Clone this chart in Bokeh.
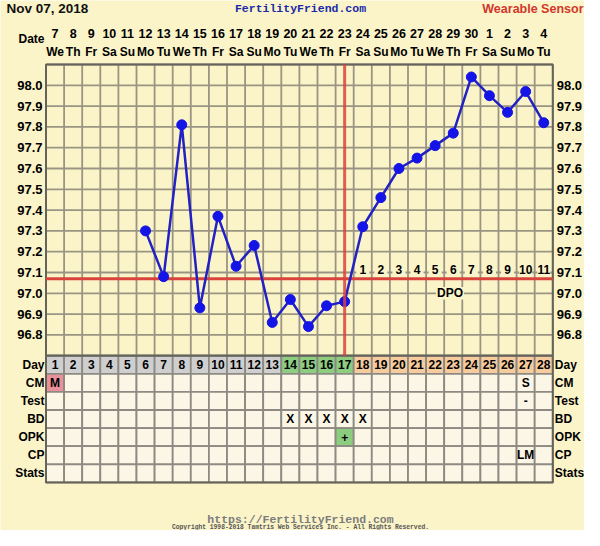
from bokeh.plotting import figure
from bokeh.models import Range1d
from bokeh.core.properties import value
from bokeh.embed import file_html
from bokeh.resources import INLINE

# ---------------- data ----------------
dates = [7, 8, 9, 10, 11, 12, 13, 14, 15, 16, 17, 18, 19, 20, 21, 22, 23, 24, 25, 26,
         27, 28, 29, 30, 1, 2, 3, 4]
weekdays = ["We", "Th", "Fr", "Sa", "Su", "Mo", "Tu"] * 4
cycle_days = list(range(1, 29))
temp_days = list(range(6, 29))
temps = [97.30, 97.08, 97.81, 96.93, 97.37, 97.13, 97.23, 96.86, 96.97, 96.84, 96.94,
         96.96, 97.32, 97.46, 97.60, 97.65, 97.71, 97.77, 98.04, 97.95, 97.87, 97.97, 97.82]
coverline = 97.07
ovulation_day = 17
dpo_days = list(range(18, 29))
dpo_labels = [str(i) for i in range(1, 12)]
temp_ticks = [96.8, 96.9, 97.0, 97.1, 97.2, 97.3, 97.4, 97.5, 97.6, 97.7, 97.8, 97.9, 98.0]
temp_tick_labels = ["%.1f" % t for t in temp_ticks]
temp_min, temp_max = 96.7, 98.1
row_labels = ["Day", "CM", "Test", "BD", "OPK", "CP", "Stats"]
fertile_days = [14, 15, 16, 17]
cm_days, cm_marks = [1, 27], ["M", "S"]
test_days, test_marks = [27], ["-"]
bd_days, bd_marks = [14, 15, 16, 17, 18], ["X"] * 5
opk_days, opk_marks = [17], ["+"]
cp_days, cp_marks = [27], ["LM"]

# ---------------- layout / style ----------------
W, H = 584, 530
GRID_L = 45.5          # px of left grid edge
CELL_W = 18.1          # px per day column
GRID_TOP = 64.0        # px of top grid edge
TEMP_PX = 208.0        # px per degree
ROW_H = 18.1           # px per table row
TEMP_BOT = GRID_TOP + (temp_max - temp_min) * TEMP_PX
GRID_R = GRID_L + CELL_W * len(cycle_days)

BG = "#fbf4c8"
CELL_BG = "#fcf6e6"
GRID_C = "#9a9583"
TABLE_C = "#8c8a82"
BORDER_C = "#66635a"
RED = "#d8443b"
BLUE_LINE = "#2222c4"
BLUE_DOT = "#1414e6"
GRAY_DAY = "#cfcfcf"
GREEN = "#8dcd80"
PEACH = "#f6cb9d"
PINK = "#e8919a"
FONT = "Liberation Sans"
MONO = "Liberation Mono"

p = figure(width=W, height=H, output_backend="svg", toolbar_location=None,
           x_axis_type=None, y_axis_type=None, min_border=0,
           x_range=Range1d(0.5 - GRID_L / CELL_W, 0.5 + (W - GRID_L) / CELL_W),
           y_range=Range1d(temp_max - (H - GRID_TOP) / TEMP_PX, temp_max + GRID_TOP / TEMP_PX),
           background_fill_color=BG, border_fill_color=BG, outline_line_color=None)
p.extra_y_ranges = {
    "rows": Range1d(start=-0.5 + (H - TEMP_BOT) / ROW_H, end=-0.5 - TEMP_BOT / ROW_H),
    "px": Range1d(start=H, end=0),
}
p.extra_x_ranges = {"px": Range1d(start=0, end=W)}

x_lo, x_hi = 0.5, len(cycle_days) + 0.5

# temperature grid
vx = [k + 0.5 for k in range(len(cycle_days) + 1)]
p.segment(x0=vx, y0=[temp_min] * len(vx), x1=vx, y1=[temp_max] * len(vx),
          line_color=GRID_C, line_width=1.8)
n_h = int(round((temp_max - temp_min) * 10)) + 1
hy = [temp_min + 0.1 * i for i in range(n_h)]
p.segment(x0=[x_lo] * n_h, y0=hy, x1=[x_hi] * n_h, y1=hy, line_color=GRID_C, line_width=1.8)
p.quad(left=x_lo, right=x_hi, bottom=temp_min, top=temp_max, fill_color=None,
       line_color=BORDER_C, line_width=2)

# table cells
cx, cy, cf = [], [], []
for r in range(len(row_labels)):
    for d in cycle_days:
        cx.append(d)
        cy.append(r)
        if r == 0:
            cf.append(GREEN if d in fertile_days else (PEACH if d > ovulation_day else GRAY_DAY))
        elif r == 1 and d == cm_days[0]:
            cf.append(PINK)
        elif r == 4 and d in opk_days:
            cf.append(GREEN)
        else:
            cf.append(CELL_BG)
p.rect(x=cx, y=cy, width=1, height=1, fill_color=cf, line_color=TABLE_C, line_width=1.8,
       y_range_name="rows")
p.quad(left=x_lo, right=x_hi, top=-0.5, bottom=len(row_labels) - 0.5, fill_color=None,
       line_color=BORDER_C, line_width=2, y_range_name="rows")

# coverline
p.segment(x0=[x_lo], y0=[coverline], x1=[x_hi], y1=[coverline], line_color=RED, line_width=3)

# DPO labels
p.rect(x=dpo_days, y=[97.116] * len(dpo_days), width=0.72, height=0.058,
       fill_color=BG, line_color=None)
p.text(x=dpo_days, y=[97.116] * len(dpo_days), text=dpo_labels, text_align="center",
       text_baseline="middle", text_font=value(FONT), text_font_style="bold",
       text_font_size="12px", text_color="black")
p.rect(x=[22.82], y=[97.0], width=1.55, height=0.06, fill_color=BG, line_color=None)
p.text(x=[22.82], y=[97.0], text=["DPO"], text_align="center", text_baseline="middle",
       text_font=value(FONT), text_font_style="bold", text_font_size="12px",
       text_color="black")

# temperatures
p.line(temp_days, temps, line_color=BLUE_LINE, line_width=2.5)
p.scatter(temp_days, temps, size=10, fill_color=BLUE_DOT, line_color=BLUE_DOT)

# ovulation line
p.segment(x0=[ovulation_day], y0=[temp_min], x1=[ovulation_day], y1=[temp_max],
          line_color=RED, line_width=3, line_alpha=0.85)

# table texts
def row_text(days, marks, row, size="12px"):
    p.text(x=days, y=[row] * len(days), text=marks, y_range_name="rows",
           text_align="center", text_baseline="middle", text_font=value(FONT),
           text_font_style="bold", text_font_size=size, text_color="black")

row_text(cycle_days, [str(d) for d in cycle_days], 0)
row_text(cm_days, cm_marks, 1)
row_text(test_days, test_marks, 2)
row_text(bd_days, bd_marks, 3)
row_text(opk_days, opk_marks, 4)
row_text(cp_days, cp_marks, 5)

# row labels both sides
rows_idx = list(range(len(row_labels)))
p.text(x=[GRID_L - 1.5] * len(rows_idx), y=rows_idx, text=row_labels, x_range_name="px",
       y_range_name="rows", text_align="right", text_baseline="middle",
       text_font=value(FONT), text_font_style="bold", text_font_size="12px", text_color="black")
p.text(x=[GRID_R + 2] * len(rows_idx), y=rows_idx, text=row_labels,
       x_range_name="px", y_range_name="rows", text_align="left", text_baseline="middle",
       text_font=value(FONT), text_font_style="bold", text_font_size="12px", text_color="black")

# temperature labels both sides
p.text(x=[GRID_L - 3.5] * len(temp_ticks), y=temp_ticks, text=temp_tick_labels,
       x_range_name="px", text_align="right", text_baseline="middle",
       text_font=value(FONT), text_font_style="bold", text_font_size="13px", text_color="black")
p.text(x=[GRID_R + 4] * len(temp_ticks), y=temp_ticks,
       text=temp_tick_labels, x_range_name="px", text_align="left", text_baseline="middle",
       text_font=value(FONT), text_font_style="bold", text_font_size="13px", text_color="black")

# date header
p.text(x=cycle_days, y=[33] * len(cycle_days), text=[str(d) for d in dates], y_range_name="px",
       text_align="center", text_baseline="middle", text_font=value(FONT),
       text_font_style="bold", text_font_size="12.5px", text_color="black")
p.text(x=cycle_days, y=[51] * len(cycle_days), text=weekdays, y_range_name="px",
       text_align="center", text_baseline="middle", text_font=value(FONT),
       text_font_style="bold", text_font_size="12px", text_color="black")
p.text(x=[GRID_L - 1.5], y=[38.5], text=["Date"], x_range_name="px", y_range_name="px",
       text_align="right", text_baseline="middle", text_font=value(FONT),
       text_font_style="bold", text_font_size="12px", text_color="black")

# titles
p.text(x=[6], y=[8], text=["Nov 07, 2018"], x_range_name="px", y_range_name="px",
       text_align="left", text_baseline="middle", text_font=value(FONT),
       text_font_style="bold", text_font_size="13.5px", text_color="#111111")
p.text(x=[300], y=[8], text=["FertilityFriend.com"], x_range_name="px", y_range_name="px",
       text_align="center", text_baseline="middle", text_font=value(MONO),
       text_font_style="bold", text_font_size="11.5px", text_color="#1a2aa8")
p.text(x=[W - 1], y=[8], text=["Wearable Sensor"], x_range_name="px", y_range_name="px",
       text_align="right", text_baseline="middle", text_font=value(FONT),
       text_font_style="bold", text_font_size="12.5px", text_color="#d2372c")
p.text(x=[300], y=[519], text=["https://FertilityFriend.com"], x_range_name="px",
       y_range_name="px", text_align="center", text_baseline="middle", text_font=value(MONO),
       text_font_style="bold", text_font_size="11.5px", text_color="#7c7c7c")
p.text(x=[300], y=[526.5],
       text=["Copyright 1998-2018 Tamtris Web Services Inc. - All Rights Reserved."],
       x_range_name="px", y_range_name="px", text_align="center", text_baseline="middle",
       text_font=value(MONO), text_font_style="bold", text_font_size="6.3px",
       text_color="#555555")

open("out.html", "w").write(file_html(p, INLINE))
